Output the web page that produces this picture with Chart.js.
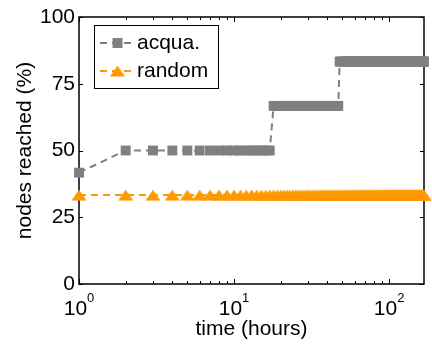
<!DOCTYPE html>
<html>
<head>
<meta charset="utf-8">
<script src="https://cdn.jsdelivr.net/npm/chart.js@4/dist/chart.umd.min.js"></script>
<style>
  html, body { margin: 0; padding: 0; background: #fff; }
  #wrap { width: 432px; height: 347px; }
</style>
</head>
<body>
<div id="wrap"><canvas id="chart" width="432" height="347"></canvas></div>
<script>
'use strict';

// ---- data (one sample per hour, one week) ----
const hours = [
    1,   2,   3,   4,   5,   6,   7,   8,   9,  10,  11,  12,  13,  14,  15,  16,  17,  18,  19,  20,  21,  22,  23,  24,
   25,  26,  27,  28,  29,  30,  31,  32,  33,  34,  35,  36,  37,  38,  39,  40,  41,  42,  43,  44,  45,  46,  47,  48,
   49,  50,  51,  52,  53,  54,  55,  56,  57,  58,  59,  60,  61,  62,  63,  64,  65,  66,  67,  68,  69,  70,  71,  72,
   73,  74,  75,  76,  77,  78,  79,  80,  81,  82,  83,  84,  85,  86,  87,  88,  89,  90,  91,  92,  93,  94,  95,  96,
   97,  98,  99, 100, 101, 102, 103, 104, 105, 106, 107, 108, 109, 110, 111, 112, 113, 114, 115, 116, 117, 118, 119, 120,
  121, 122, 123, 124, 125, 126, 127, 128, 129, 130, 131, 132, 133, 134, 135, 136, 137, 138, 139, 140, 141, 142, 143, 144,
  145, 146, 147, 148, 149, 150, 151, 152, 153, 154, 155, 156, 157, 158, 159, 160, 161, 162, 163, 164, 165, 166, 167, 168
];

const acqua = [
  41.7, 50, 50, 50, 50, 50, 50, 50, 50, 50, 50, 50, 50, 50, 50, 50, 50, 66.7, 66.7, 66.7, 66.7, 66.7, 66.7, 66.7,
  66.7, 66.7, 66.7, 66.7, 66.7, 66.7, 66.7, 66.7, 66.7, 66.7, 66.7, 66.7, 66.7, 66.7, 66.7, 66.7, 66.7, 66.7, 66.7, 66.7, 66.7, 66.7, 66.7, 83.3,
  83.3, 83.3, 83.3, 83.3, 83.3, 83.3, 83.3, 83.3, 83.3, 83.3, 83.3, 83.3, 83.3, 83.3, 83.3, 83.3, 83.3, 83.3, 83.3, 83.3, 83.3, 83.3, 83.3, 83.3,
  83.3, 83.3, 83.3, 83.3, 83.3, 83.3, 83.3, 83.3, 83.3, 83.3, 83.3, 83.3, 83.3, 83.3, 83.3, 83.3, 83.3, 83.3, 83.3, 83.3, 83.3, 83.3, 83.3, 83.3,
  83.3, 83.3, 83.3, 83.3, 83.3, 83.3, 83.3, 83.3, 83.3, 83.3, 83.3, 83.3, 83.3, 83.3, 83.3, 83.3, 83.3, 83.3, 83.3, 83.3, 83.3, 83.3, 83.3, 83.3,
  83.3, 83.3, 83.3, 83.3, 83.3, 83.3, 83.3, 83.3, 83.3, 83.3, 83.3, 83.3, 83.3, 83.3, 83.3, 83.3, 83.3, 83.3, 83.3, 83.3, 83.3, 83.3, 83.3, 83.3,
  83.3, 83.3, 83.3, 83.3, 83.3, 83.3, 83.3, 83.3, 83.3, 83.3, 83.3, 83.3, 83.3, 83.3, 83.3, 83.3, 83.3, 83.3, 83.3, 83.3, 83.3, 83.3, 83.3, 83.3
];

const random = [
  33.3, 33.3, 33.3, 33.3, 33.3, 33.3, 33.3, 33.3, 33.3, 33.3, 33.3, 33.3, 33.3, 33.3, 33.3, 33.3, 33.3, 33.3, 33.3, 33.3, 33.3, 33.3, 33.3, 33.3,
  33.3, 33.3, 33.3, 33.3, 33.3, 33.3, 33.3, 33.3, 33.3, 33.3, 33.3, 33.3, 33.3, 33.3, 33.3, 33.3, 33.3, 33.3, 33.3, 33.3, 33.3, 33.3, 33.3, 33.3,
  33.3, 33.3, 33.3, 33.3, 33.3, 33.3, 33.3, 33.3, 33.3, 33.3, 33.3, 33.3, 33.3, 33.3, 33.3, 33.3, 33.3, 33.3, 33.3, 33.3, 33.3, 33.3, 33.3, 33.3,
  33.3, 33.3, 33.3, 33.3, 33.3, 33.3, 33.3, 33.3, 33.3, 33.3, 33.3, 33.3, 33.3, 33.3, 33.3, 33.3, 33.3, 33.3, 33.3, 33.3, 33.3, 33.3, 33.3, 33.3,
  33.3, 33.3, 33.3, 33.3, 33.3, 33.3, 33.3, 33.3, 33.3, 33.3, 33.3, 33.3, 33.3, 33.3, 33.3, 33.3, 33.3, 33.3, 33.3, 33.3, 33.3, 33.3, 33.3, 33.3,
  33.3, 33.3, 33.3, 33.3, 33.3, 33.3, 33.3, 33.3, 33.3, 33.3, 33.3, 33.3, 33.3, 33.3, 33.3, 33.3, 33.3, 33.3, 33.3, 33.3, 33.3, 33.3, 33.3, 33.3,
  33.3, 33.3, 33.3, 33.3, 33.3, 33.3, 33.3, 33.3, 33.3, 33.3, 33.3, 33.3, 33.3, 33.3, 33.3, 33.3, 33.3, 33.3, 33.3, 33.3, 33.3, 33.3, 33.3, 33.3
];

const seriesNames   = ['acqua.', 'random'];
const yTicks        = [0, 25, 50, 75, 100];
const xMajorTicks   = [1, 10, 100];
const xTickExponent = ['0', '1', '2'];
const xMinorTicks   = [2, 3, 4, 5, 6, 7, 8, 9, 20, 30, 40, 50, 60, 70, 80, 90];

// ---- styling ----
const GRAY   = '#808080';
const ORANGE = '#FF9900';
const FONT   = "'Liberation Sans', Arial, Helvetica, sans-serif";
const DASH   = [7, 5];

// MATLAB style '^' marker: a bit wider than tall
const triMarker = (() => {
    const c = document.createElement('canvas');
    c.width = 16; c.height = 12;
    const g = c.getContext('2d');
    g.fillStyle = ORANGE;
    g.beginPath();
    g.moveTo(0.5, 11.5); g.lineTo(8, 0.5); g.lineTo(15.5, 11.5);
    g.closePath(); g.fill();
    return c;
})();

// box, inward ticks, superscript x labels and the legend
const frame = {
    id: 'frame',
    beforeDatasetsDraw(chart) {
        const { ctx, chartArea: a, scales: { x, y } } = chart;
        ctx.save();
        ctx.strokeStyle = '#000';
        ctx.lineWidth = 1.5;
        ctx.strokeRect(a.left, a.top, a.right - a.left, a.bottom - a.top);
        ctx.lineWidth = 1;
        ctx.beginPath();
        const vTick = (v, len) => {
            const px = Math.round(x.getPixelForValue(v)) + 0.5;
            ctx.moveTo(px, a.bottom); ctx.lineTo(px, a.bottom - len);
            ctx.moveTo(px, a.top);    ctx.lineTo(px, a.top + len);
        };
        xMajorTicks.forEach(v => vTick(v, 5));
        xMinorTicks.forEach(v => vTick(v, 3));
        yTicks.forEach(v => {
            const py = Math.round(y.getPixelForValue(v)) + 0.5;
            ctx.moveTo(a.left, py);  ctx.lineTo(a.left + 4, py);
            ctx.moveTo(a.right, py); ctx.lineTo(a.right - 4, py);
        });
        ctx.stroke();
        ctx.restore();
    },
    afterDraw(chart) {
        const { ctx, chartArea: a, scales: { x } } = chart;
        ctx.save();
        ctx.fillStyle = '#000';
        ctx.textBaseline = 'alphabetic';
        ctx.textAlign = 'left';

        // x tick labels 10^n
        xMajorTicks.forEach((v, i) => {
            const px = x.getPixelForValue(v);
            ctx.font = `21px ${FONT}`;
            const wBase = ctx.measureText('10').width;
            ctx.font = `13px ${FONT}`;
            const wExp = ctx.measureText(xTickExponent[i]).width;
            const x0 = px - (wBase + wExp) / 2;
            ctx.font = `21px ${FONT}`;
            ctx.fillText('10', x0, a.bottom + 31);
            ctx.font = `13px ${FONT}`;
            ctx.fillText(xTickExponent[i], x0 + wBase, a.bottom + 18);
        });

        // legend
        const lx = a.left + 15, ly = a.top + 8;
        ctx.fillStyle = '#fff';
        ctx.fillRect(lx, ly, 124, 63);
        ctx.strokeStyle = '#000';
        ctx.lineWidth = 1;
        ctx.strokeRect(lx + 0.5, ly + 0.5, 124, 63);

        const rows = [
            { name: seriesNames[0], color: GRAY,   cy: ly + 18 },
            { name: seriesNames[1], color: ORANGE, cy: ly + 46 }
        ];
        rows.forEach((r, i) => {
            ctx.strokeStyle = r.color;
            ctx.lineWidth = 2;
            ctx.setLineDash(DASH);
            ctx.beginPath();
            ctx.moveTo(lx + 6, r.cy); ctx.lineTo(lx + 41, r.cy);
            ctx.stroke();
            ctx.setLineDash([]);
            const mx = lx + 23.5;
            if (i === 0) {
                ctx.fillStyle = GRAY;
                ctx.fillRect(mx - 5, r.cy - 5, 10, 10);
            } else {
                ctx.drawImage(triMarker, mx - 8, r.cy - 6);
            }
            ctx.fillStyle = '#000';
            ctx.font = `21px ${FONT}`;
            ctx.fillText(r.name, lx + 43, r.cy + 6);
        });
        ctx.restore();
    }
};

const toPoints = vals => hours.map((h, i) => ({ x: h, y: vals[i] }));

new Chart(document.getElementById('chart'), {
    type: 'line',
    data: {
        datasets: [
            {
                label: seriesNames[0],
                data: toPoints(acqua),
                borderColor: GRAY, backgroundColor: GRAY,
                borderWidth: 2, borderDash: DASH, tension: 0,
                pointStyle: 'rect', pointRadius: 7, pointBorderWidth: 0,
                pointBackgroundColor: GRAY, clip: false
            },
            {
                label: seriesNames[1],
                data: toPoints(random),
                borderColor: ORANGE, backgroundColor: ORANGE,
                borderWidth: 2, borderDash: DASH, tension: 0,
                pointStyle: triMarker, pointRadius: 8, pointBorderWidth: 0,
                pointBackgroundColor: ORANGE, clip: false
            }
        ]
    },
    options: {
        responsive: false, animation: false, devicePixelRatio: 1,
        layout: { padding: { left: 5, right: 3, top: 17, bottom: 0 } },
        plugins: { legend: { display: false }, tooltip: { enabled: false } },
        scales: {
            x: {
                type: 'logarithmic', min: 1, max: 168,
                grid: { display: false, drawTicks: false },
                border: { display: false },
                ticks: { display: false },
                title: {
                    display: true, text: 'time (hours)', color: '#000',
                    font: { family: FONT, size: 21 }, padding: { top: 0, bottom: 5 }
                },
                afterFit: s => { s.height = 63; }
            },
            y: {
                min: 0, max: 100,
                grid: { display: false, drawTicks: false },
                border: { display: false },
                ticks: {
                    stepSize: 25, padding: 4, color: '#000',
                    font: { family: FONT, size: 21 }
                },
                title: {
                    display: true, text: 'nodes reached (%)', color: '#000',
                    font: { family: FONT, size: 21 }, padding: { top: 8, bottom: 0 }
                },
                afterFit: s => { s.width = 74; }
            }
        }
    },
    plugins: [frame]
});
</script>
</body>
</html>
